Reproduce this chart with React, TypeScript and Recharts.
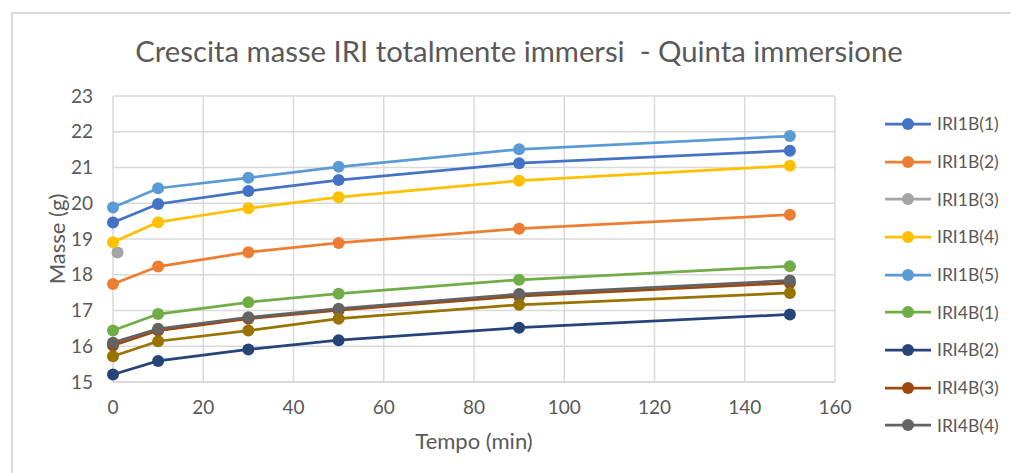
import React from "react";
import { LineChart, Line, XAxis, YAxis, CartesianGrid } from "recharts";

// Tempo (min) at which masses were measured
const times = [0, 10, 30, 50, 90, 150];

// Masse (g)
const iri1b1 = [19.46, 19.98, 20.34, 20.65, 21.12, 21.47];
const iri1b2 = [17.74, 18.23, 18.63, 18.89, 19.29, 19.68];
const iri1b4 = [18.91, 19.47, 19.86, 20.17, 20.63, 21.05];
const iri1b5 = [19.88, 20.42, 20.71, 21.02, 21.51, 21.88];
const iri4b1 = [16.44, 16.9, 17.23, 17.47, 17.86, 18.24];
const iri4b2 = [15.21, 15.59, 15.91, 16.17, 16.52, 16.89];
const iri4b3 = [16.02, 16.44, 16.77, 17.01, 17.4, 17.77];
const iri4b4 = [16.1, 16.49, 16.81, 17.05, 17.46, 17.84];
const iri4b5 = [15.72, 16.14, 16.44, 16.77, 17.16, 17.49];

// IRI1B(3) only has one measurement
const iri1b3Time = [1];
const iri1b3 = [18.62];

const xTicks = [0, 20, 40, 60, 80, 100, 120, 140, 160];
const yTicks = [15, 16, 17, 18, 19, 20, 21, 22, 23];

const toPoints = (xs: number[], ys: number[]) => xs.map((t, i) => ({ t, m: ys[i] }));

const series = [
  { name: "IRI1B(1)", color: "#4472C4", data: toPoints(times, iri1b1) },
  { name: "IRI1B(2)", color: "#ED7D31", data: toPoints(times, iri1b2) },
  { name: "IRI1B(3)", color: "#A5A5A5", data: toPoints(iri1b3Time, iri1b3) },
  { name: "IRI1B(4)", color: "#FFC000", data: toPoints(times, iri1b4) },
  { name: "IRI1B(5)", color: "#5B9BD5", data: toPoints(times, iri1b5) },
  { name: "IRI4B(1)", color: "#70AD47", data: toPoints(times, iri4b1) },
  { name: "IRI4B(2)", color: "#264478", data: toPoints(times, iri4b2) },
  { name: "IRI4B(3)", color: "#9E480E", data: toPoints(times, iri4b3) },
  { name: "IRI4B(4)", color: "#636363", data: toPoints(times, iri4b4) },
  // legend is cut off in the original, this one has no visible entry
  { name: "IRI4B(5)", color: "#997300", data: toPoints(times, iri4b5), hidden: true },
];

const font = "Lato, 'Open Sans', sans-serif";
const grey = "#595959";

export default function App() {
  return (
    <div style={{ position: "fixed", left: 0, top: 0, width: 1011, height: 473, background: "#fff", fontFamily: font, overflow: "hidden" }}>
      <div
        style={{
          position: "absolute",
          left: 11,
          top: 12,
          width: 1011,
          height: 473,
          borderLeft: "2px solid #d9d9d9",
          borderTop: "2px solid #d9d9d9",
        }}
      />
      <div
        style={{
          position: "absolute",
          left: 519,
          top: 50,
          transform: "translate(-50%, -50%)",
          fontSize: 29.3,
          color: grey,
          whiteSpace: "pre",
        }}
      >
        Crescita masse IRI totalmente immersi  - Quinta immersione
      </div>
      <div
        style={{
          position: "absolute",
          left: 56,
          top: 239,
          transform: "translate(-50%, -50%) rotate(-90deg)",
          fontSize: 22,
          color: grey,
          whiteSpace: "nowrap",
        }}
      >
        Masse (g)
      </div>
      <div
        style={{
          position: "absolute",
          left: 474,
          top: 440,
          transform: "translate(-50%, -50%)",
          fontSize: 22,
          color: grey,
          whiteSpace: "nowrap",
        }}
      >
        Tempo (min)
      </div>
      <div style={{ position: "absolute", left: 885, top: 105 }}>
        {series
          .filter((s) => !s.hidden)
          .map((s) => (
            <div key={s.name} style={{ display: "flex", alignItems: "center", height: 37.7 }}>
              <svg width={46} height={14} style={{ marginRight: 6 }}>
                <line x1={0} y1={7} x2={46} y2={7} stroke={s.color} strokeWidth={2.75} />
                <circle cx={23} cy={7} r={6} fill={s.color} />
              </svg>
              <span style={{ fontSize: 17.5, color: grey }}>{s.name}</span>
            </div>
          ))}
      </div>
      <LineChart
        width={1011}
        height={473}
        margin={{ top: 96, right: 176, bottom: 61, left: 73 }}
        style={{ position: "absolute", left: 0, top: 0 }}
      >
        <CartesianGrid stroke="#d9d9d9" strokeWidth={1.5} />
        <XAxis
          type="number"
          dataKey="t"
          domain={[0, 160]}
          ticks={xTicks}
          allowDuplicatedCategory={false}
          tickLine={false}
          axisLine={{ stroke: "#d9d9d9", strokeWidth: 1.5 }}
          tickSize={0}
          tickMargin={19}
          height={30}
          tick={{ fill: grey, fontSize: 19, fontFamily: font }}
        />
        <YAxis
          type="number"
          domain={[15, 23]}
          ticks={yTicks}
          tickLine={false}
          axisLine={false}
          tickSize={0}
          tickMargin={20}
          width={40}
          tick={{ fill: grey, fontSize: 19, fontFamily: font }}
        />
        {series.map((s) => (
          <Line
            key={s.name}
            name={s.name}
            data={s.data}
            dataKey="m"
            type="linear"
            stroke={s.color}
            strokeWidth={2.75}
            dot={{ r: 6, fill: s.color, stroke: s.color, strokeWidth: 0 }}
            activeDot={false}
            isAnimationActive={false}
          />
        ))}
      </LineChart>
    </div>
  );
}
